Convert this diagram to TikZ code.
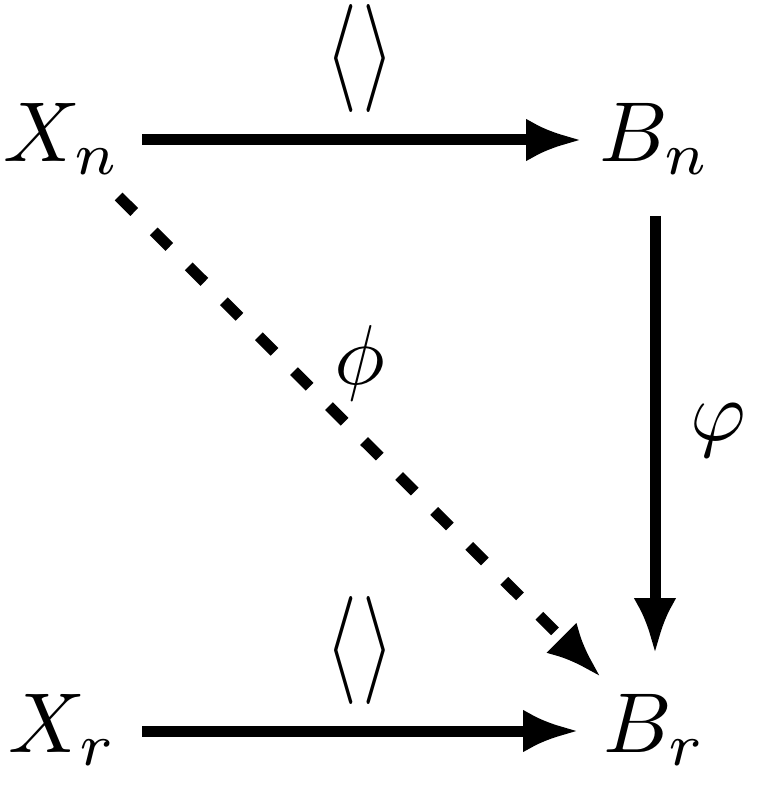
\documentclass[tikz,border=0pt]{standalone}
\usetikzlibrary{arrows.meta}
\begin{document}
\begin{tikzpicture}[x=1pt,y=1pt,
  obj/.style={inner sep=0pt, scale=8.5, text height=6.82pt, text depth=1.65pt},
  lbl/.style={inner sep=0pt, scale=8.5},
  brk/.style={inner sep=0pt, xscale=8.2, yscale=10.8},
  arr/.style={line width=11pt, -{Latex[length=56pt,width=43pt]}},
  dasharr/.style={arr, dash pattern=on 22pt off 27.5pt}
]
\useasboundingbox (0,0) rectangle (758,-786);
\node[obj] (Xn) at (62,-140) {$X_n$};
\node[obj] (Bn) at (655,-140) {$B_n$};
\node[obj] (Xr) at (63,-731) {$X_r$};
\node[obj] (Br) at (655,-731) {$B_r$};
\node[brk] (ltop) at (360,-59) {$\langle\mkern1mu\rangle$};
\node[brk] (lbot) at (360,-650) {$\langle\mkern1mu\rangle$};
\node[lbl] (lphi) at (360,-363) {$\phi$};
\node[lbl] (lvphi) at (718,-430) {$\varphi$};
\draw[arr, shorten <=80pt, shorten >=73pt] (Xn.center) -- (Bn.center);
\draw[arr, shorten <=79pt, shorten >=76pt] (Xr.center) -- (Br.center);
\draw[arr, shorten <=76pt, shorten >=77pt] (Bn.center) -- (Br.center);
\draw[dasharr, shorten <=80pt, shorten >=76pt] (Xn.center) -- (Br.center);
\end{tikzpicture}
\end{document}
